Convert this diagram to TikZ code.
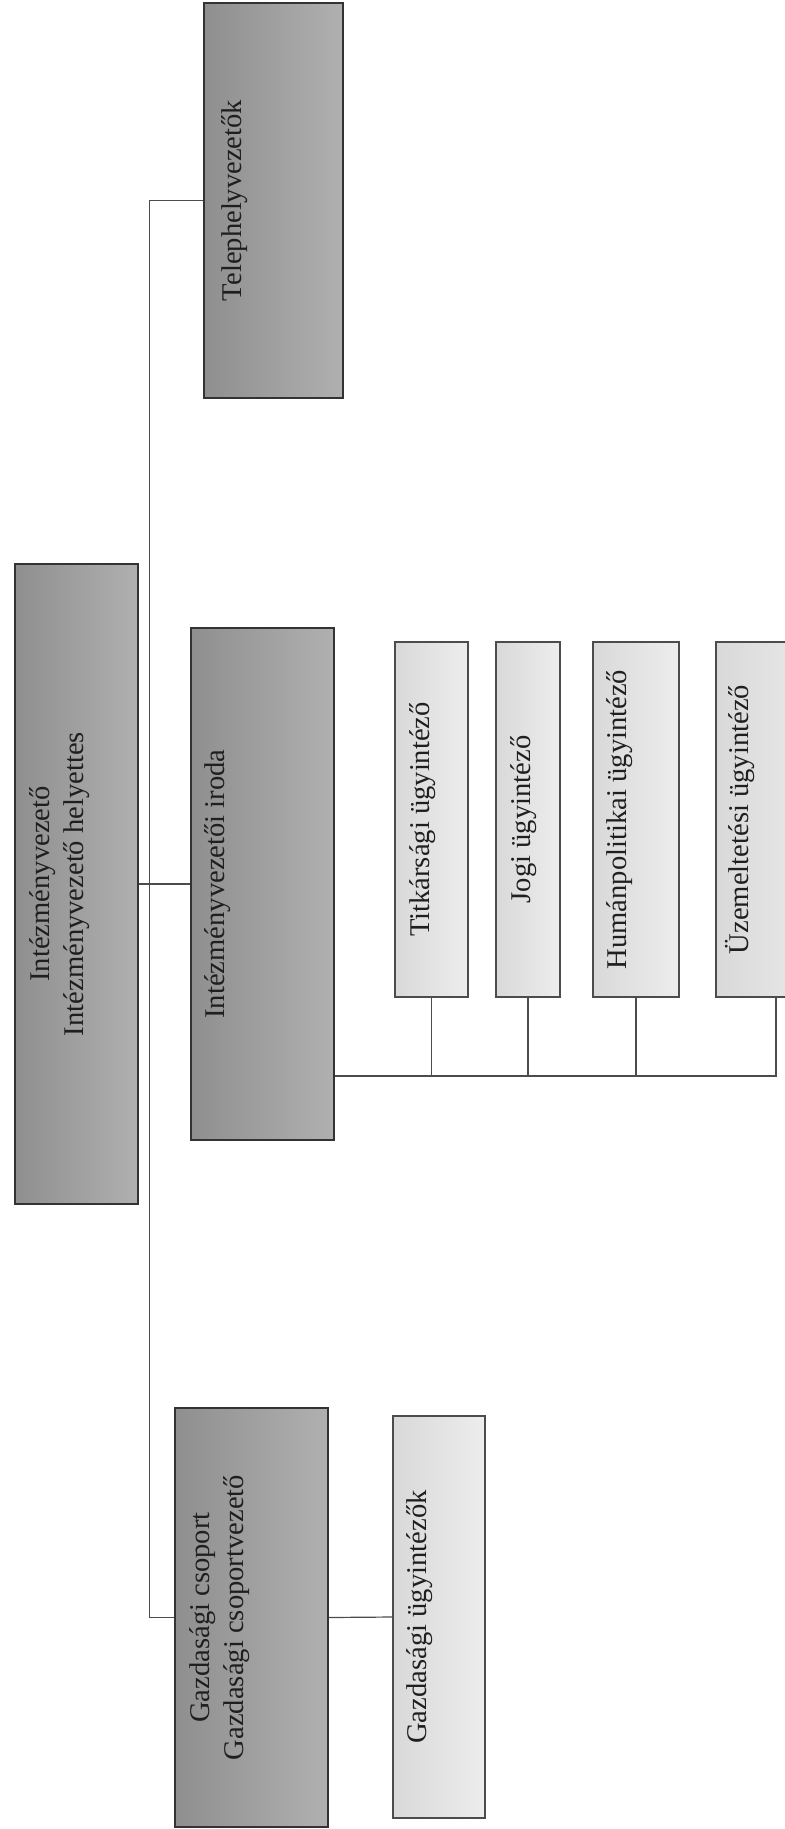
\documentclass[tikz,border=0pt]{standalone}
\usepackage{fontspec}
\setmainfont{Liberation Serif}
\tikzset{darkbox/.style  = {draw=black!80, line width=0.8pt,
                            left color=black!44, right color=black!31, inner sep=0pt},
         lightbox/.style = {draw=black!70, line width=0.6pt,
                            left color=black!15, right color=black!7, inner sep=0pt},
         smallbox/.style = {lightbox, minimum height=177.5pt},
         boxlabel/.style = {rotate=90, align=center, text=black!88, inner sep=0pt,
                            font=\fontsize{14.3}{17}\selectfont},
         conn/.style     = {draw=black!70, line width=0.6pt}}

\begin{document}
\begin{tikzpicture}[x=0.5pt, y=-0.5pt]
      \useasboundingbox (0, 0) rectangle (784, 1829);

      % first level
      \node [darkbox, minimum width=61.5pt, minimum height=320pt] (root) at (76.5, 884) {};
      \node [boxlabel] (root-t) at ([xshift=22.5pt]root.west) {Intézményvezető\\Intézményvezető helyettes};

      % second level
      \node [darkbox, minimum width=69.5pt, minimum height=197.5pt] (telep) at (273.5, 200.5) {};
      \node [boxlabel] (telep-t) at ([xshift=15.5pt]telep.west) {Telephelyvezetők};
      \node [darkbox, minimum width=71.5pt, minimum height=256pt] (iroda) at (262.5, 884) {};
      \node [boxlabel] (iroda-t) at ([xshift=13.5pt]iroda.west) {Intézményvezetői iroda};
      \node [darkbox, minimum width=76.5pt, minimum height=209.5pt] (gazd) at (251.5, 1617.5) {};
      \node [boxlabel] (gazd-t) at ([xshift=22.5pt]gazd.west) {Gazdasági csoport\\Gazdasági csoportvezető};

      % third level
      \node [lightbox, minimum width=46pt, minimum height=201pt] (gazdu) at (439, 1617) {};
      \node [boxlabel] (gazdu-t) at ([xshift=13.5pt]gazdu.west) {Gazdasági ügyintézők};
      \node [smallbox, minimum width=36.5pt] (titk) at (431.5, 819.5) {};
      \node [boxlabel] (titk-t) at ([xshift=14pt]titk.west) {Titkársági ügyintéző};
      \node [smallbox, minimum width=32pt] (jogi) at (528, 819.5) {};
      \node [boxlabel] (jogi-t) at ([xshift=14pt]jogi.west) {Jogi ügyintéző};
      \node [smallbox, minimum width=43pt] (human) at (636, 819.5) {};
      \node [boxlabel] (human-t) at ([xshift=13.5pt]human.west) {Humánpolitikai ügyintéző};
      \node [smallbox, minimum width=60pt] (uzem) at (776, 819.5) {};
      \node [boxlabel] (uzem-t) at ([xshift=12.5pt]uzem.west) {Üzemeltetési ügyintéző};

      % connectors
      \coordinate (bus) at (0, 1076);
      \draw [conn] (telep.west) -- ++(-54, 0) |- (gazd.west);
      \draw [conn] (root.east) -- (iroda.west);
      \draw [conn] (gazd.east) -- (gazdu.west);
      \draw [conn] (iroda.east |- bus) -- (uzem.south |- bus) -- (uzem.south);
      \draw [conn] (titk.south) -- (titk.south |- bus);
      \draw [conn] (jogi.south) -- (jogi.south |- bus);
      \draw [conn] (human.south) -- (human.south |- bus);
    \end{tikzpicture}
\end{document}
